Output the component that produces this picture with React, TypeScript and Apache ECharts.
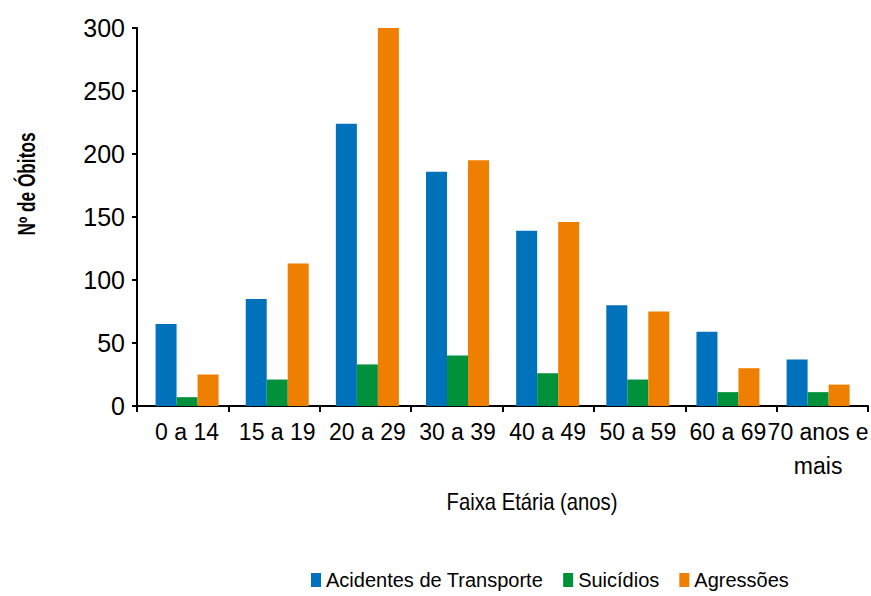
import React, { useEffect, useRef } from "react";
import * as echarts from "echarts";

const categories = ["0 a 14", "15 a 19", "20 a 29", "30 a 39", "40 a 49", "50 a 59", "60 a 69", "70 anos e\nmais"];
const transporte = [65, 85, 224, 186, 139, 80, 59, 37];
const suicidios = [7, 21, 33, 40, 26, 21, 11, 11];
const agressoes = [25, 113, 300, 195, 146, 75, 30, 17];
const seriesNames = ["Acidentes de Transporte", "Suicídios", "Agressões"];
const colors = ["#0071bb", "#00913a", "#ef7f00"];
const xTitle = "Faixa Etária (anos)";
const yTitle = "Nº de Óbitos";

const axisFont = "'Liberation Sans', 'Noto Sans', sans-serif";

export default function App() {
  const ref = useRef<HTMLDivElement>(null);
  useEffect(() => {
    if (!ref.current) return;
    const chart = echarts.init(ref.current, null, { renderer: "svg" });
    const lineStyle = { color: "#000", width: 2 };
    chart.setOption({
      animation: false,
      backgroundColor: "#fff",
      legend: {
        data: seriesNames,
        left: 311,
        top: 570,
        padding: 0,
        icon: "rect",
        itemWidth: 10,
        itemHeight: 14,
        itemGap: 20,
        textStyle: { fontFamily: axisFont, fontSize: 20, color: "#000" },
      },
      graphic: [
        {
          type: "text",
          x: 532,
          y: 502,
          scaleX: 0.88,
          style: {
            text: xTitle,
            fontFamily: axisFont,
            fontSize: 23,
            fill: "#000",
            align: "center",
            verticalAlign: "middle",
            textAlign: "center",
            textVerticalAlign: "middle",
          },
        },
        {
          type: "text",
          x: 27,
          y: 184,
          rotation: Math.PI / 2,
          scaleX: 0.75,
          style: {
            text: yTitle,
            fontFamily: axisFont,
            fontSize: 23,
            fontWeight: "bold",
            fill: "#000",
            align: "center",
            verticalAlign: "middle",
            textAlign: "center",
            textVerticalAlign: "middle",
          },
        },
      ],
      grid: [
        { left: 142, width: 731, top: 28, height: 378 },
        { left: 137, width: 731, top: 28, height: 378 },
      ],
      xAxis: [
        {
          type: "category",
          gridIndex: 0,
          data: categories,
          offset: 5,
          axisLine: { show: false },
          axisTick: { show: false },
          axisLabel: {
            color: "#000",
            fontFamily: axisFont,
            fontSize: 23,
            lineHeight: 34,
            margin: 4,
            interval: 0,
          },
        },
        {
          type: "category",
          gridIndex: 1,
          data: categories,
          offset: 5,
          axisLine: { show: true, lineStyle },
          axisTick: { show: true, length: 6, lineStyle },
          axisLabel: { show: false },
        },
      ],
      yAxis: [
        {
          type: "value",
          gridIndex: 0,
          min: 0,
          max: 300,
          interval: 50,
          offset: 5,
          splitLine: { show: false },
          axisLine: { show: true, lineStyle },
          axisTick: { show: true, length: 5, lineStyle },
          axisLabel: { color: "#000", fontFamily: axisFont, fontSize: 25, margin: 12 },
        },
        { type: "value", gridIndex: 1, show: false, min: 0, max: 1 },
      ],
      series: [
        { name: seriesNames[0], type: "bar", data: transporte, barWidth: 21, barGap: "0%", itemStyle: { color: colors[0] } },
        { name: seriesNames[1], type: "bar", data: suicidios, barWidth: 21, barGap: "0%", itemStyle: { color: colors[1] } },
        { name: seriesNames[2], type: "bar", data: agressoes, barWidth: 21, barGap: "0%", itemStyle: { color: colors[2] } },
      ],
    });
    return () => chart.dispose();
  }, []);
  return <div ref={ref} style={{ position: "fixed", left: 0, top: 0, width: 871, height: 596 }} />;
}
